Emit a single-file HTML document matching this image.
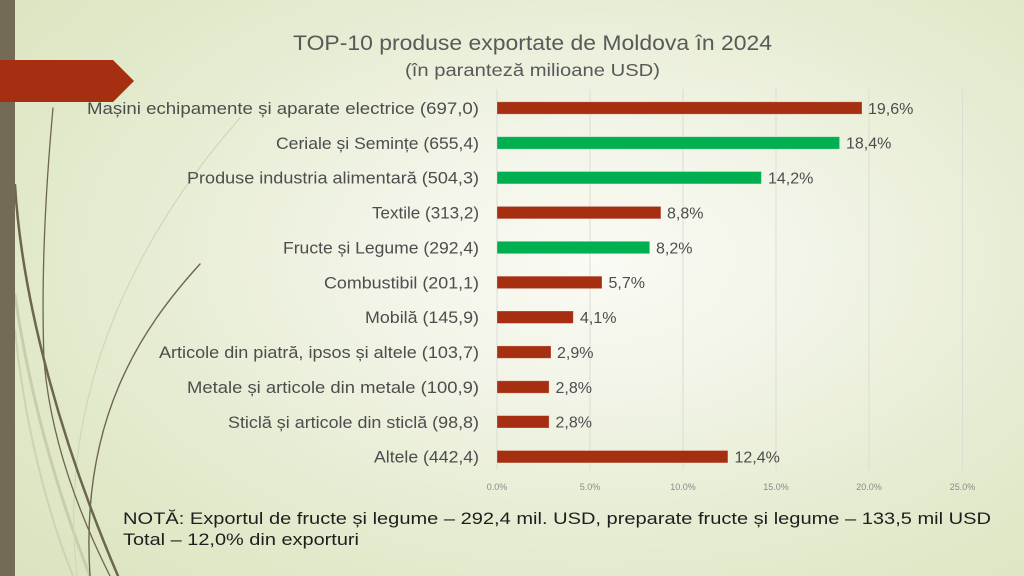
<!DOCTYPE html>
<html><head><meta charset="utf-8"><style>
html,body{margin:0;padding:0;}
body{width:1024px;height:576px;overflow:hidden;background:radial-gradient(ellipse 75% 80% at 58% 45%,#fafbf5 0%,#f1f4e6 30%,#e4ebcf 65%,#dbe4bf 100%);}
svg{display:block;}
text{font-family:"Liberation Sans",sans-serif;}
</style></head><body>
<svg width="1024" height="576" viewBox="0 0 1024 576" xmlns="http://www.w3.org/2000/svg">
<!-- decorative curves -->
<g fill="none" stroke-linecap="round">
<path d="M15,295 C30,400 60,500 90,576" stroke="#c7ceac" stroke-width="3"/>
<path d="M15,330 C25,430 50,520 73,576" stroke="#cdd3b4" stroke-width="2"/>
<path d="M240,118 C150,220 55,380 77,576" stroke="#cfd5b7" stroke-width="1.1"/>
<path d="M15,185 C22,300 60,440 118,576" stroke="#6e6550" stroke-width="2.5"/>
<path d="M53,108 Q40,250 44,360 Q52,460 110,576" stroke="#6e6550" stroke-width="1.3"/>
<path d="M200,264 C140,330 80,420 90,576" stroke="#6e6550" stroke-width="1.4"/>
</g>
<rect x="0" y="0" width="15" height="576" fill="#746b56"/>
<polygon points="0,60 113,60 134,81 113,102 0,102" fill="#a52f10"/>

<!-- title -->
<text x="532.5" y="50" font-size="21" fill="#595959" text-anchor="middle" textLength="479" lengthAdjust="spacingAndGlyphs">TOP-10 produse exportate de Moldova în 2024</text>
<text x="532.5" y="76" font-size="17.5" fill="#595959" text-anchor="middle" textLength="255" lengthAdjust="spacingAndGlyphs">(în paranteză milioane USD)</text>

<!-- gridlines -->
<g stroke="#dcdcd6" stroke-width="1">
<line x1="497" y1="89" x2="497" y2="470"/>
<line x1="590" y1="89" x2="590" y2="470"/>
<line x1="683" y1="89" x2="683" y2="470"/>
<line x1="776" y1="89" x2="776" y2="470"/>
<line x1="869" y1="89" x2="869" y2="470"/>
<line x1="962.5" y1="89" x2="962.5" y2="470"/>
</g>
<g font-size="9" fill="#8a8a8a" text-anchor="middle">
<text x="497" y="490">0.0%</text>
<text x="590" y="490">5.0%</text>
<text x="683" y="490">10.0%</text>
<text x="776" y="490">15.0%</text>
<text x="869" y="490">20.0%</text>
<text x="962.5" y="490">25.0%</text>
</g>

<!-- bars -->
<g stroke="rgba(255,255,255,0.35)" stroke-width="0.8">
<rect x="497" y="101.8" width="365" height="12.4" fill="#a52f10"/>
<rect x="497" y="136.7" width="342.6" height="12.4" fill="#00b050"/>
<rect x="497" y="171.5" width="264.4" height="12.4" fill="#00b050"/>
<rect x="497" y="206.4" width="163.9" height="12.4" fill="#a52f10"/>
<rect x="497" y="241.3" width="152.7" height="12.4" fill="#00b050"/>
<rect x="497" y="276.2" width="105" height="12.4" fill="#a52f10"/>
<rect x="497" y="311" width="76.3" height="12.4" fill="#a52f10"/>
<rect x="497" y="345.9" width="54" height="12.4" fill="#a52f10"/>
<rect x="497" y="380.8" width="52.1" height="12.4" fill="#a52f10"/>
<rect x="497" y="415.6" width="52.1" height="12.4" fill="#a52f10"/>
<rect x="497" y="450.5" width="230.9" height="12.4" fill="#a52f10"/>
</g>

<!-- category labels -->
<g font-size="17" fill="#4d4d4d" text-anchor="end">
<text x="479" y="114" textLength="392" lengthAdjust="spacingAndGlyphs">Mașini echipamente și aparate electrice (697,0)</text>
<text x="479" y="148.9" textLength="203" lengthAdjust="spacingAndGlyphs">Ceriale și Semințe (655,4)</text>
<text x="479" y="183.7" textLength="292" lengthAdjust="spacingAndGlyphs">Produse industria alimentară (504,3)</text>
<text x="479" y="218.6" textLength="107" lengthAdjust="spacingAndGlyphs">Textile (313,2)</text>
<text x="479" y="253.5" textLength="196" lengthAdjust="spacingAndGlyphs">Fructe și Legume (292,4)</text>
<text x="479" y="288.4" textLength="155" lengthAdjust="spacingAndGlyphs">Combustibil (201,1)</text>
<text x="479" y="323.2" textLength="114" lengthAdjust="spacingAndGlyphs">Mobilă (145,9)</text>
<text x="479" y="358.1" textLength="320" lengthAdjust="spacingAndGlyphs">Articole din piatră, ipsos și altele (103,7)</text>
<text x="479" y="393" textLength="292" lengthAdjust="spacingAndGlyphs">Metale și articole din metale (100,9)</text>
<text x="479" y="427.8" textLength="251" lengthAdjust="spacingAndGlyphs">Sticlă și articole din sticlă (98,8)</text>
<text x="479" y="462.7" textLength="105" lengthAdjust="spacingAndGlyphs">Altele (442,4)</text>
</g>

<!-- value labels -->
<g font-size="16" fill="#4d4d4d">
<text x="868" y="113.8">19,6%</text>
<text x="846" y="148.7">18,4%</text>
<text x="768" y="183.5">14,2%</text>
<text x="667" y="218.4">8,8%</text>
<text x="656" y="253.3">8,2%</text>
<text x="608.5" y="288.2">5,7%</text>
<text x="580" y="323">4,1%</text>
<text x="557" y="357.9">2,9%</text>
<text x="555.5" y="392.8">2,8%</text>
<text x="555.5" y="427.6">2,8%</text>
<text x="734.5" y="462.5">12,4%</text>
</g>

<!-- note -->
<g font-size="17" fill="#1e1e1e">
<text x="123" y="524" textLength="868" lengthAdjust="spacingAndGlyphs">NOTĂ: Exportul de fructe și legume – 292,4 mil. USD, preparate fructe și legume – 133,5 mil USD</text>
<text x="123" y="545" textLength="236" lengthAdjust="spacingAndGlyphs">Total – 12,0% din exporturi</text>
</g>
</svg>
</body></html>
